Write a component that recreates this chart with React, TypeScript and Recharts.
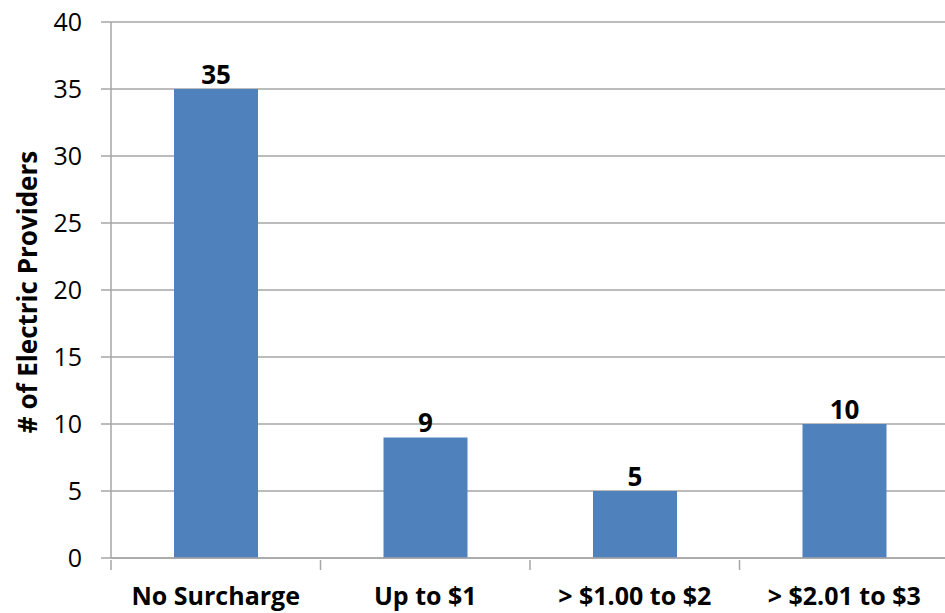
import React from 'react';
import { BarChart, Bar, XAxis, YAxis, CartesianGrid, LabelList } from 'recharts';

const categories = ['No Surcharge', 'Up to $1', '> $1.00 to $2', '> $2.01 to $3'];
const providers = [35, 9, 5, 10];
const yTicks = [0, 5, 10, 15, 20, 25, 30, 35, 40];

const data = categories.map((name, i) => ({ name, value: providers[i] }));

const FONT = '"Open Sans", sans-serif';
const CHART_W = 950;
const CHART_H = 613;
const Y_AXIS_W = 111;
const RIGHT = 1;
const BAND = (CHART_W - Y_AXIS_W - RIGHT) / categories.length;

// category label plus the boundary tick on its left
const CategoryTick = (props: any) => {
  const { x, y, payload } = props;
  const left = x - BAND / 2;
  return (
    <g>
      <line x1={left} y1={y} x2={left} y2={y + 10} stroke="#a6a6a6" strokeWidth={1.5} />
      <text
        x={x}
        y={y + 45}
        textAnchor="middle"
        fontFamily={FONT}
        fontWeight={700}
        fontSize={25}
        fill="#000"
      >
        {payload.value}
      </text>
    </g>
  );
};

const YTitle = (props: any) => {
  const { viewBox } = props;
  const cy = viewBox.y + viewBox.height / 2;
  return (
    <text
      x={0}
      y={0}
      transform={`translate(37, ${cy + 2}) rotate(-90)`}
      textAnchor="middle"
      fontFamily={FONT}
      fontWeight={700}
      fontSize={26}
      fill="#000"
    >
      # of Electric Providers
    </text>
  );
};

export default function App() {
  return (
    <div style={{ position: 'fixed', left: 0, top: 0, width: 945, height: 613, overflow: 'hidden', background: '#fff' }}>
      <BarChart
        width={CHART_W}
        height={CHART_H}
        data={data}
        margin={{ top: 22, right: RIGHT, left: 0, bottom: 0 }}
      >
        <CartesianGrid vertical={false} stroke="#a6a6a6" strokeWidth={1.5} />
        <XAxis
          dataKey="name"
          height={55}
          axisLine={{ stroke: '#a6a6a6', strokeWidth: 1.5 }}
          tickLine={false}
          tickSize={0}
          tick={<CategoryTick />}
          interval={0}
        />
        <YAxis
          width={Y_AXIS_W}
          domain={[0, 40]}
          ticks={yTicks}
          interval={0}
          tickSize={10}
          tickMargin={19}
          axisLine={{ stroke: '#a6a6a6', strokeWidth: 1.5 }}
          tickLine={{ stroke: '#a6a6a6', strokeWidth: 1.5 }}
          tick={{ fontFamily: FONT, fontSize: 25, fill: '#000' }}
          label={<YTitle />}
        />
        <Bar dataKey="value" fill="#4f81bd" isAnimationActive={false} barSize={84}>
          <LabelList
            dataKey="value"
            position="top"
            offset={5}
            style={{ fontFamily: FONT, fontWeight: 700, fontSize: 26, fill: '#000' }}
          />
        </Bar>
      </BarChart>
    </div>
  );
}
